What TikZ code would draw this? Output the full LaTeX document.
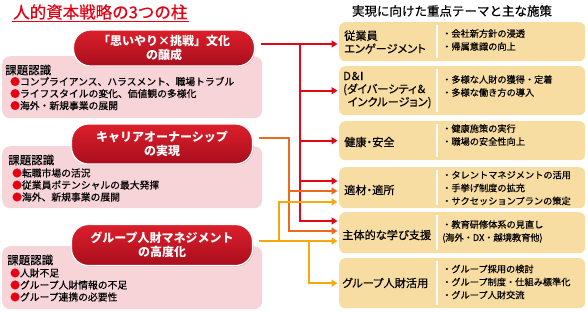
\documentclass[tikz,border=0pt]{standalone}
\usepackage{fontspec}
\newfontfamily\jp[FakeBold=0.45]{Noto Sans CJK JP}
\newfontfamily\jpb{Noto Sans CJK JP}
\newfontfamily\jpp[RawFeature=+palt,FakeBold=0.45]{Noto Sans CJK JP}
\usetikzlibrary{arrows.meta,positioning,calc,shadows}
\definecolor{titlered}{HTML}{E60012}
\definecolor{pillhi}{HTML}{DC1F2B}
\definecolor{pilllo}{HTML}{A90E1D}
\definecolor{issuebg}{HTML}{F6D4D8}
\definecolor{themebg}{HTML}{F8DDA3}
\definecolor{linered}{HTML}{E30613}
\definecolor{lineorange}{HTML}{EB6A1D}
\definecolor{lineyellow}{HTML}{F4A90F}
\newcommand{\rdot}{\textcolor{titlered}{●}}

\begin{document}
\begin{tikzpicture}[x=1pt, y=-1pt,
  pill/.style={rounded corners=17pt, minimum width=181pt, inner sep=0pt, draw=white,
               line width=1.2pt, top color=pillhi, bottom color=pilllo,
               drop shadow={opacity=0.25, shadow xshift=1pt, shadow yshift=-1pt},
               text=white, align=center, font=\jpb\bfseries\fontsize{12}{14}\selectfont},
  issuebox/.style={fill=issuebg, rounded corners=8pt, minimum width=260pt,
                   inner sep=0pt, anchor=north west},
  issuehd/.style={anchor=west, inner sep=0pt, font=\jp\fontsize{11.5}{13}\selectfont},
  issue/.style={anchor=west, align=left, inner sep=0pt, font=\jp\fontsize{9.8}{12}\selectfont},
  theme/.style={fill=themebg, rounded corners=6pt, minimum width=246pt, inner sep=0pt,
                anchor=north west},
  tname/.style={anchor=west, align=left, inner sep=0pt, font=\jpp\fontsize{11.2}{13}\selectfont},
  tplan/.style={anchor=west, align=left, inner sep=0pt, font=\jp\fontsize{9.2}{13}\selectfont},
  divl/.style={white, line width=1.2pt},
  conn/.style={line width=1.8pt},
  arr/.style={conn, -{Triangle[length=6pt,width=7pt]}, shorten >=1.5pt}
]
  \fill[white] (0,0) rectangle (588,311);
  \useasboundingbox (0,0) rectangle (588,311);

  % title and heading
  \node[anchor=west, inner xsep=1pt, inner ysep=2pt, text=titlered,
        font=\jp\fontsize{16.5}{18}\selectfont] (title) at (12,12) {人的資本戦略の3つの柱};
  \draw[titlered, line width=1pt] (title.south west) -- (title.south east);
  \node[font=\jp\fontsize{12.5}{14}\selectfont] (head) at (452,11) {実現に向けた重点テーマと主な施策};

  % issue boxes
  \node[issuebox, minimum height=62pt] (bg1) at (2,56) {};
  \node[issuebox, minimum height=62pt] (bg2) at (2,146) {};
  \node[issuebox, minimum height=63pt] (bg3) at (2,246) {};

  \node[issuehd] (hd1) at (5,70) {課題認識};
  \node[issue] (iss1) at (10,93.5) {\rdot コンプライアンス、ハラスメント、職場トラブル\\
    \rdot ライフスタイルの変化、価値観の多様化\\ \rdot 海外・新規事業の展開};
  \node[issuehd] (hd2) at (8,160) {課題認識};
  \node[issue] (iss2) at (12,185) {\rdot 転職市場の活況\\
    \rdot 従業員ポテンシャルの最大発揮\\ \rdot 海外、新規事業の展開};
  \node[issuehd] (hd3) at (7,260) {課題認識};
  \node[issue] (iss3) at (10,285) {\rdot 人財不足\\
    \rdot グループ人財情報の不足\\ \rdot グループ連携の必要性};

  % pillars
  \node[pill, minimum height=36pt] (pill1) at (164,48) {「思いやり×挑戦」文化\\の醸成};
  \node[pill, minimum height=40pt] (pill2) at (162,144) {キャリアオーナーシップ\\の実現};
  \node[pill, minimum height=41pt] (pill3) at (162,245) {グループ人財マネジメント\\の高度化};

  % themes
  \node[theme, minimum height=39pt] (t1) at (339,22) {};
  \node[theme, minimum height=49pt] (t2) at (339,66) {};
  \node[theme, minimum height=39pt] (t3) at (339,121) {};
  \node[theme, minimum height=41pt] (t4) at (339,167) {};
  \node[theme, minimum height=41pt] (t5) at (339,212) {};
  \node[theme, minimum height=50pt] (t6) at (339,258) {};
  \foreach \t in {t1,t2,t3,t4,t5,t6}
    \draw[divl] ([xshift=98pt,yshift=-3pt]\t.north west) -- ([xshift=98pt,yshift=3pt]\t.south west);

  \node[tname] (n1) at (344,42) {従業員\\エンゲージメント};
  \node[tname] (n2) at (343,90) {D＆I\\(ダイバーシティ＆\\\hspace{0.4em}インクルージョン)};
  \node[tname] (n3) at (344,142) {健康・安全};
  \node[tname] (n4) at (344,190) {適材・適所};
  \node[tname] (n5) at (342,235) {主体的な学び支援};
  \node[tname] (n6) at (342,283) {グループ人財活用};

  \node[tplan] (p1) at (442,40) {・会社新方針の浸透\\・帰属意識の向上};
  \node[tplan] (p2) at (442,86) {・多様な人財の獲得・定着\\・多様な働き方の導入};
  \node[tplan] (p3) at (442,135) {・健康施策の実行\\・職場の安全性向上};
  \node[tplan] (p4) at (442,188) {・タレントマネジメントの活用\\・手挙げ制度の拡充\\・サクセッションプランの策定};
  \node[tplan] (p5) at (442,231.5) {・教育研修体系の見直し\\(海外・DX・越境教育他)};
  \node[tplan] (p6) at (442,282) {・グループ採用の検討\\・グループ制度・仕組み標準化\\・グループ人財交流};

  % connectors
  \coordinate (rx) at (300,44);
  \coordinate (r4) at (339,181);
  \coordinate (r5) at (339,221);
  \coordinate (ox) at (289,138);
  \coordinate (o4) at (339,191);
  \coordinate (o5) at (339,231);
  \coordinate (y4) at (339,202);
  \coordinate (y5) at (339,241);
  \coordinate (yl) at (279,241);
  \coordinate (yr) at (309,241);

  \draw[arr, linered] ([xshift=6pt]pill1.east |- rx) -- (t1.west |- rx);
  \draw[arr, linered] (rx) |- (r5);
  \draw[arr, linered] (rx |- t2.west) -- (t2.west);
  \draw[arr, linered] (rx |- t3.west) -- (t3.west);
  \draw[arr, linered] (rx |- r4) -- (r4);

  \draw[arr, lineorange] ([xshift=6pt]pill2.east |- ox) -- (ox) |- (o5);
  \draw[arr, lineorange] (ox |- o4) -- (o4);

  \draw[arr, lineyellow] ([xshift=6pt]pill3.east |- y5) -- (y5);
  \draw[arr, lineyellow] (yl) |- (y4);
  \draw[arr, lineyellow] (yr) |- (t6.west);
\end{tikzpicture}
\end{document}
